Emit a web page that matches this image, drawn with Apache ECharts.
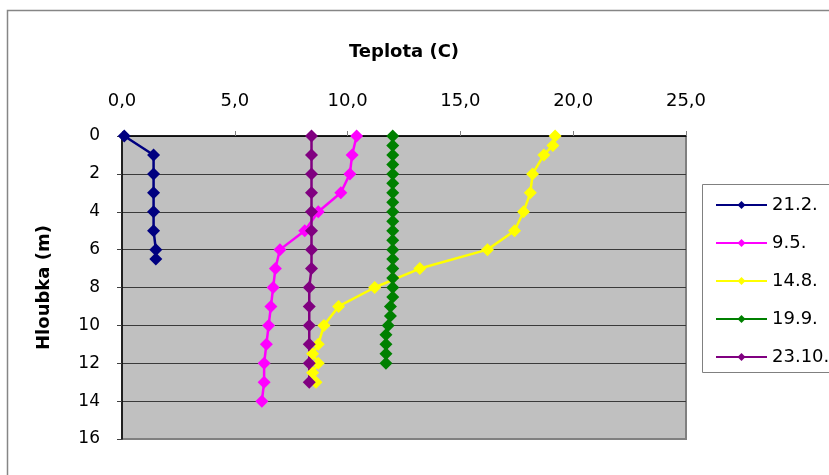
<!DOCTYPE html>
<html>
<head>
<meta charset="utf-8">
<script src="https://cdn.jsdelivr.net/npm/echarts@6/dist/echarts.min.js"></script>
<style>
  html, body { margin: 0; padding: 0; background: #ffffff; }
  #chart { width: 829px; height: 475px; }
</style>
</head>
<body>
<div id="chart"></div>
<script>
// Temperature profiles of the water column on five dates
const seriesNames = ['21.2.', '9.5.', '14.8.', '19.9.', '23.10.'];

const depth_21_2 = [0, 1, 2, 3, 4, 5, 6, 6.5];
const temp_21_2  = [0.1, 1.4, 1.4, 1.4, 1.4, 1.4, 1.5, 1.5];

const depth_9_5 = [0, 1, 2, 3, 4, 5, 6, 7, 8, 9, 10, 11, 12, 13, 14];
const temp_9_5  = [10.4, 10.2, 10.1, 9.7, 8.7, 8.1, 7.0, 6.8, 6.7, 6.6, 6.5, 6.4, 6.3, 6.3, 6.2];

const depth_14_8 = [0, 0.5, 1, 2, 3, 4, 5, 6, 7, 8, 9, 10, 11, 11.5, 12, 12.5, 13];
const temp_14_8  = [19.2, 19.1, 18.7, 18.2, 18.1, 17.8, 17.4, 16.2, 13.2, 11.2, 9.6, 8.95, 8.7, 8.45, 8.7, 8.45, 8.6];

const depth_19_9 = [0, 0.5, 1, 1.5, 2, 2.5, 3, 3.5, 4, 4.5, 5, 5.5, 6, 6.5, 7, 7.5, 8, 8.5, 9, 9.5, 10, 10.5, 11, 11.5, 12];
const temp_19_9  = [12.0, 12.0, 12.0, 12.0, 12.0, 12.0, 12.0, 12.0, 12.0, 12.0, 12.0, 12.0, 12.0, 12.0, 12.0, 12.0, 12.0, 12.0, 11.9, 11.9, 11.8, 11.7, 11.7, 11.7, 11.7];

const depth_23_10 = [0, 1, 2, 3, 4, 5, 6, 7, 8, 9, 10, 11, 12, 13];
const temp_23_10  = [8.4, 8.4, 8.4, 8.4, 8.4, 8.4, 8.4, 8.4, 8.3, 8.3, 8.3, 8.3, 8.3, 8.3];

const seriesColors = ['#000080', '#FF00FF', '#FFFF00', '#008000', '#800080'];

// Axis ranges
const tempMin = 0, tempMax = 25, tempStep = 5;
const depthMin = 0, depthMax = 16, depthStep = 2;

const profiles = [
  [temp_21_2, depth_21_2],
  [temp_9_5, depth_9_5],
  [temp_14_8, depth_14_8],
  [temp_19_9, depth_19_9],
  [temp_23_10, depth_23_10]
];

const FONT = 'DejaVu Sans';

const chart = echarts.init(document.getElementById('chart'), null, { renderer: 'canvas' });

chart.setOption({
  animation: false,
  backgroundColor: '#ffffff',
  graphic: [
    {
      // outer chart frame, running off the right and bottom edges
      type: 'rect',
      z: -10,
      shape: { x: 7.5, y: 10.5, width: 900, height: 600 },
      style: { fill: 'none', stroke: '#868686', lineWidth: 1.5 }
    },
    {
      // legend frame, also cut by the right edge
      type: 'rect',
      z: -5,
      shape: { x: 702.5, y: 184.5, width: 200, height: 188 },
      style: { fill: 'none', stroke: '#808080', lineWidth: 1 }
    }
  ],
  grid: {
    left: 122, top: 136, right: 143, bottom: 36,
    show: true,
    backgroundColor: '#C0C0C0',
    borderColor: '#808080',
    borderWidth: 2
  },
  legend: {
    orient: 'vertical',
    left: 703, top: 184,
    padding: [12, 0, 6, 12],
    itemWidth: 51,
    itemHeight: 10,
    itemGap: 20,
    data: seriesNames,
    textStyle: { fontFamily: FONT, fontSize: 18, color: '#000' }
  },
  xAxis: {
    type: 'value',
    position: 'top',
    min: tempMin, max: tempMax, interval: tempStep,
    name: 'Teplota (C)',
    nameLocation: 'middle',
    nameGap: 75,
    nameTextStyle: { fontFamily: FONT, fontSize: 18, fontWeight: 'bold', color: '#000' },
    axisLine: { show: true, onZero: false, lineStyle: { color: '#000', width: 1.5 } },
    axisTick: { show: true, inside: false, length: 5, lineStyle: { color: '#808080' } },
    axisLabel: {
      margin: 26,
      fontFamily: FONT, fontSize: 18, color: '#000',
      formatter: v => v.toFixed(1).replace('.', ',')
    },
    splitLine: { show: false }
  },
  yAxis: {
    type: 'value',
    inverse: true,
    min: depthMin, max: depthMax, interval: depthStep,
    name: 'Hloubka (m)',
    nameLocation: 'middle',
    nameGap: 69,
    nameRotate: 90,
    nameTextStyle: { fontFamily: FONT, fontSize: 18, fontWeight: 'bold', color: '#000' },
    axisLine: { show: true, onZero: false, lineStyle: { color: '#000', width: 1.5 } },
    axisTick: { show: true, inside: false, length: 5, lineStyle: { color: '#404040' } },
    axisLabel: { margin: 22, fontFamily: FONT, fontSize: 17, color: '#000' },
    splitLine: { show: true, showMaxLine: false, lineStyle: { color: '#3a3a3a', width: 1 } }
  },
  series: profiles.map((p, i) => ({
    name: seriesNames[i],
    type: 'line',
    data: p[0].map((t, k) => [t, p[1][k]]),
    symbol: 'diamond',
    symbolSize: 13,
    showAllSymbol: true,
    clip: false,
    color: seriesColors[i],
    lineStyle: { color: seriesColors[i], width: 2.5 },
    itemStyle: { color: seriesColors[i] }
  }))
});
</script>
</body>
</html>
